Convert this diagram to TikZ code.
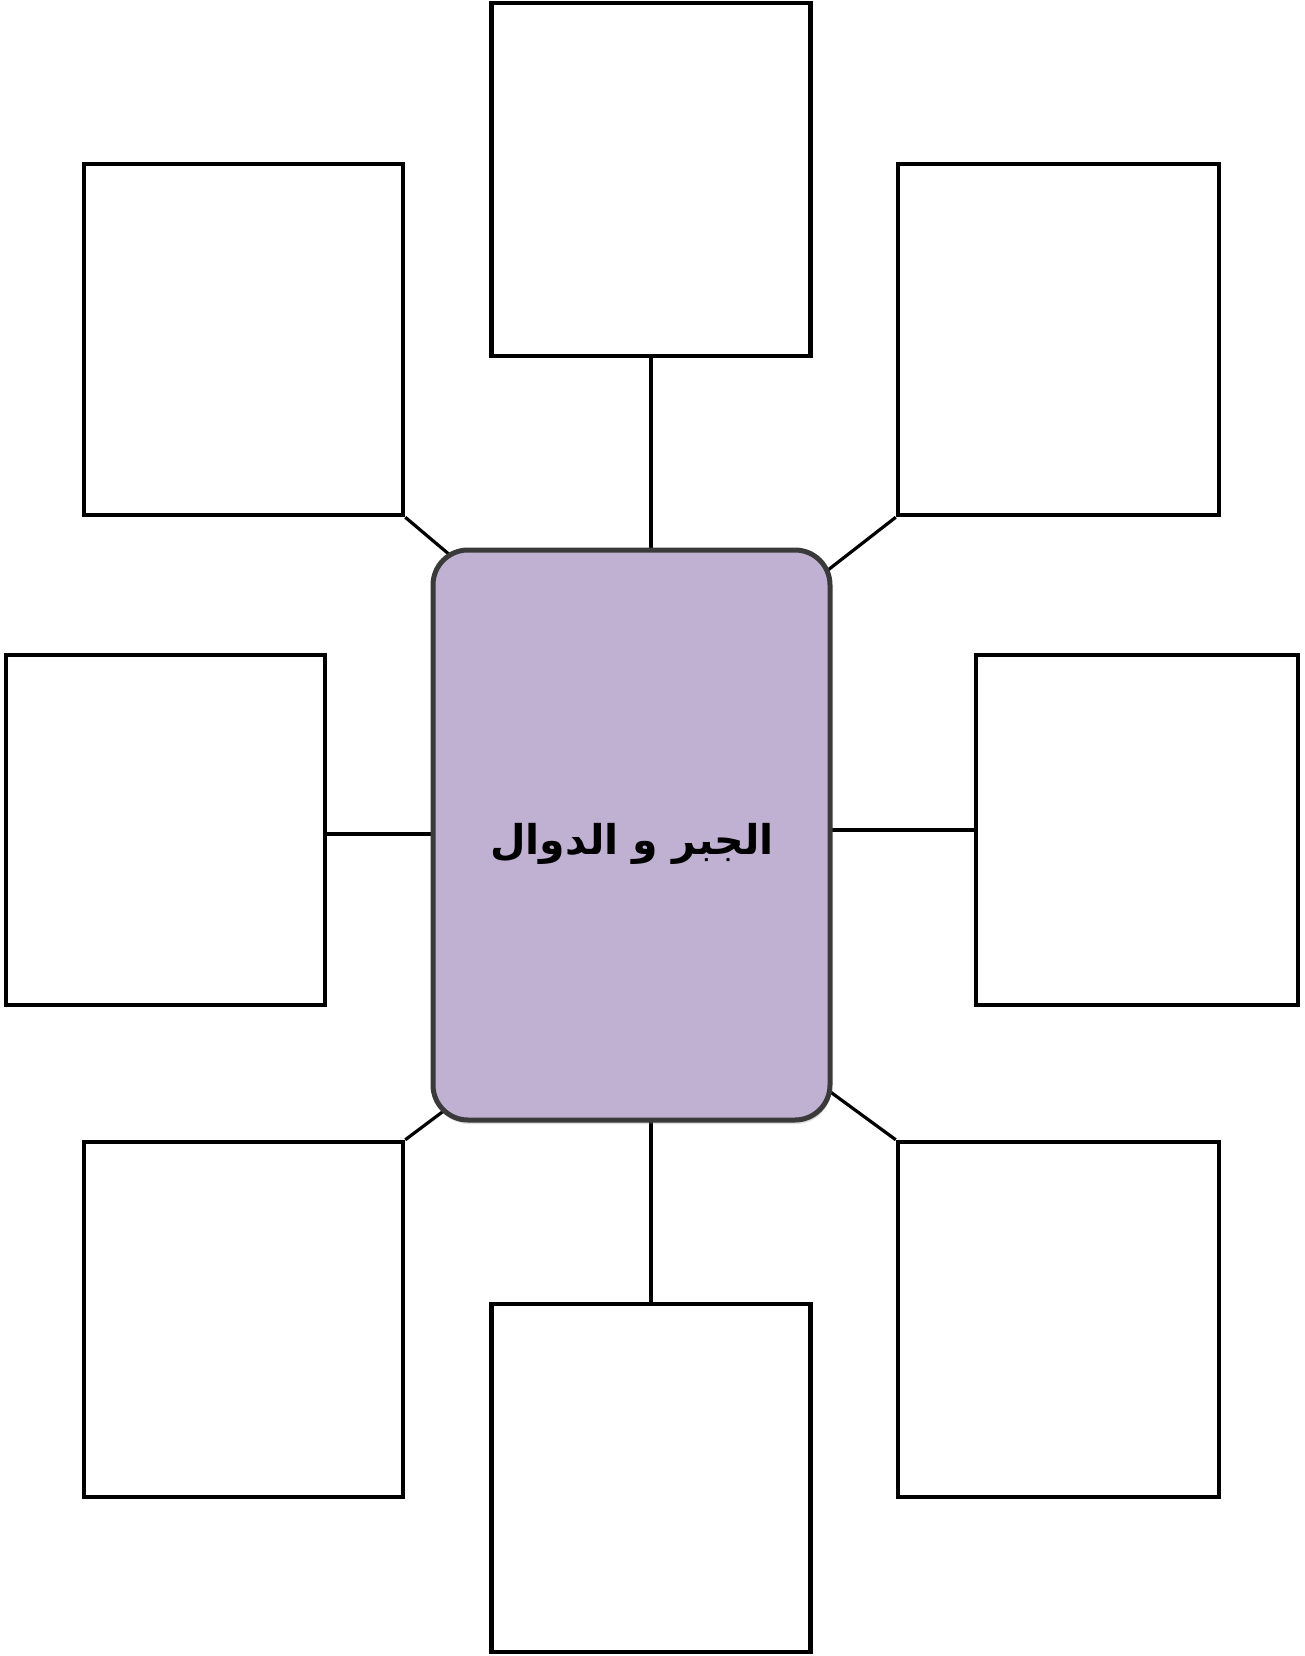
\documentclass[tikz,border=0pt]{standalone}
\usepackage{fontspec}
\newfontfamily\arabicfont[Script=Arabic]{DejaVu Sans}
\TeXXeTstate=1
\usetikzlibrary{shadows,calc}
\pgfdeclarelayer{paper}
\pgfdeclarelayer{links}
\pgfsetlayers{paper,links,main}
\definecolor{purp}{HTML}{C0B1D3}
\definecolor{rim}{HTML}{3A3A3A}
\tikzset{
  box/.style={draw=black, line width=4.5pt, fill=white, inner sep=0pt, minimum width=319pt, minimum height=351pt},
  link/.style={draw=black, line width=3.2pt},
  hub/.style={draw=rim, line width=5pt, fill=purp, rounded corners=35pt, inner sep=0pt,
    minimum width=397pt, minimum height=570pt,
    drop shadow={opacity=0.25, shadow xshift=1pt, shadow yshift=-4pt}}
}
\begin{document}
\begin{tikzpicture}[x=1pt,y=-1pt]
\begin{pgfonlayer}{paper}
\useasboundingbox[fill=white] (0,0) rectangle (1304,1656);
\end{pgfonlayer}
% outer boxes
\node[box, minimum height=353pt] (t)  at (651,179.5) {};
\node[box] (tl) at (243.5,339.5) {};
\node[box, minimum width=321pt] (tr) at (1058.5,339.5) {};
\node[box, minimum height=350pt] (ml) at (165.5,830) {};
\node[box, minimum width=322pt, minimum height=350pt] (mr) at (1137,830) {};
\node[box, minimum height=355pt] (bl) at (243.5,1319.5) {};
\node[box, minimum height=348pt] (b)  at (651,1478) {};
\node[box, minimum width=321pt, minimum height=355pt] (br) at (1058.5,1319.5) {};
% hidden end points inside the hub
\coordinate (ctl) at (470,572);
\coordinate (ctr) at (810,584);
\coordinate (cbl) at (465,1095);
\coordinate (cbr) at (810,1077);
\coordinate (lj) at ($(ml.east)+(0,4)$);
% hub
\node[hub] (c) at (631.5,835) {};
% connectors
\begin{pgfonlayer}{links}
\draw[link] (t.south) -- (t.south |- c.center);
\draw[link] (b.north) -- (b.north |- c.center);
\draw[link] (lj) -- (lj -| c.center);
\draw[link] (mr.west) -- (mr.west -| c.center);
\draw[link] (tl.south east) -- (ctl);
\draw[link] (tr.south west) -- (ctr);
\draw[link] (bl.north east) -- (cbl);
\draw[link] (br.north west) -- (cbr);
\end{pgfonlayer}
% label
\node (lab) at (632,844) {\arabicfont\bfseries\fontsize{41}{50}\selectfont\beginR الجبر و الدوال\endR};
\end{tikzpicture}
\end{document}
